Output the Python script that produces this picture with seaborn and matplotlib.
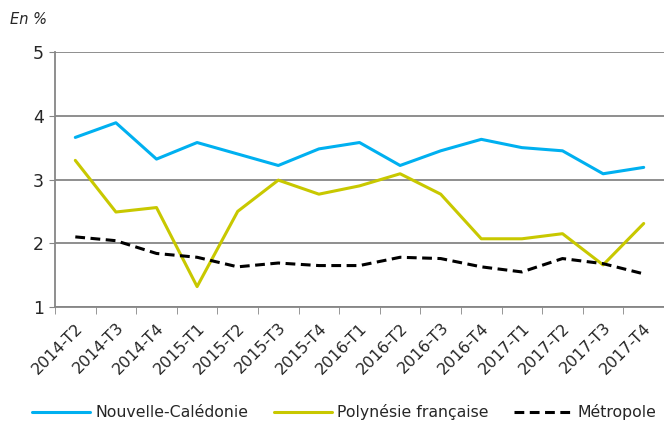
import numpy as np
import pandas as pd
import matplotlib
matplotlib.use("Agg")
import matplotlib.pyplot as plt
import seaborn as sns

quarters = ["2014-T2", "2014-T3", "2014-T4", "2015-T1", "2015-T2", "2015-T3", "2015-T4",
            "2016-T1", "2016-T2", "2016-T3", "2016-T4", "2017-T1", "2017-T2", "2017-T3", "2017-T4"]
nouvelle_caledonie = [3.66, 3.89, 3.32, 3.58, 3.40, 3.22, 3.48, 3.58, 3.22, 3.45, 3.63, 3.50, 3.45, 3.09, 3.19]
polynesie = [3.30, 2.49, 2.56, 1.32, 2.50, 2.99, 2.77, 2.90, 3.09, 2.77, 2.07, 2.07, 2.15, 1.66, 2.31]
metropole = [2.10, 2.04, 1.84, 1.78, 1.63, 1.69, 1.65, 1.65, 1.78, 1.76, 1.63, 1.55, 1.76, 1.68, 1.52]

names = ["Nouvelle-Calédonie", "Polynésie française", "Métropole"]

ds = pd.DataFrame({
    "trimestre": quarters * 3,
    "valeur": nouvelle_caledonie + polynesie + metropole,
    "zone": [names[0]] * 15 + [names[1]] * 15 + [names[2]] * 15,
})

sns.set_style("white")
plt.rcParams["font.family"] = ["DejaVu Sans"]

fig = plt.figure(figsize=(6.64, 4.23), dpi=100)
ax = fig.add_axes([55 / 664, 1 - 307 / 423, (664 - 55) / 664, 255 / 423])

palette = {names[0]: "#00B0F0", names[1]: "#C8C800", names[2]: "#000000"}
dashes = {names[0]: "", names[1]: "", names[2]: (3.2, 1.8)}
sns.lineplot(data=ds, x="trimestre", y="valeur", hue="zone", style="zone",
             palette=palette, dashes=dashes, linewidth=2.2, sort=False, ax=ax)

# y axis
ax.set_ylim(1, 5)
ax.set_yticks([1, 2, 3, 4, 5])
ax.yaxis.grid(True, color="#868686", linewidth=1.3)
ax.set_axisbelow(True)
ax.tick_params(axis="y", labelsize=12.5, length=4, color="#868686", direction="out", left=True, pad=4)

# x axis: ticks between categories
ax.set_xlim(-0.5, -0.5 + 609 / 41.14)
ax.set_xticks(np.arange(len(quarters)))
ax.set_xticklabels(quarters, rotation=45, ha="right", rotation_mode="anchor", fontsize=11.5)
ax.set_xticks(np.arange(len(quarters) + 1) - 0.5, minor=True)
ax.tick_params(axis="x", which="major", length=0, pad=9.5)
ax.tick_params(axis="x", which="minor", length=5, color="#868686", direction="out", bottom=True)

for s in ["top", "right"]:
    ax.spines[s].set_visible(False)
ax.spines["left"].set_color("#868686")
ax.spines["bottom"].set_color("#868686")
ax.spines["left"].set_linewidth(1.3)
ax.spines["bottom"].set_linewidth(1.3)
ax.set_xlabel("")
ax.set_ylabel("")

handles, labels = ax.get_legend_handles_labels()
ax.get_legend().remove()
fig.legend(handles, labels, loc="center left", bbox_to_anchor=(32 / 664, 1 - 412 / 423), ncol=3,
           frameon=False, fontsize=11.3, handlelength=3.7, columnspacing=1.6, handletextpad=0.35,
           borderpad=0, borderaxespad=0)

fig.text(10 / 664, 1 - 20 / 423, "En %", fontsize=10.5, style="italic", va="center")

plt.savefig("out.png", dpi=100)
